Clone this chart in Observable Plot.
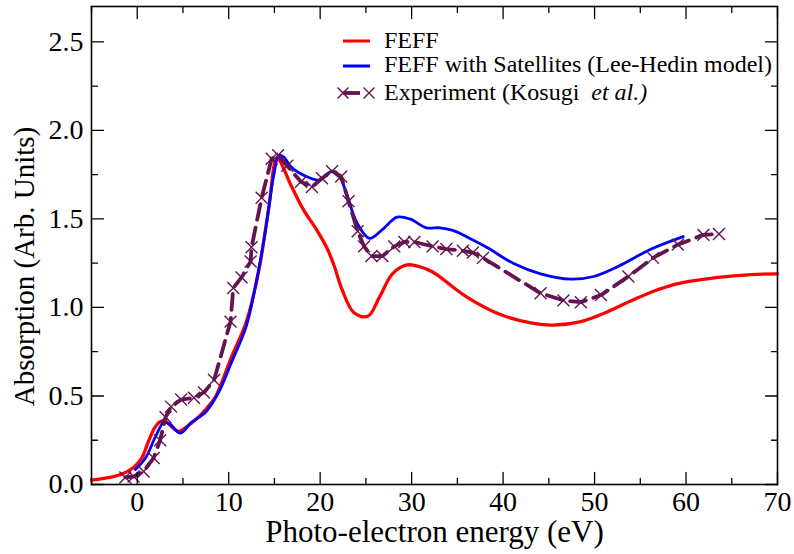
<!DOCTYPE html>
<html>
<head>
<meta charset="utf-8">
<script src="https://cdn.jsdelivr.net/npm/d3@7"></script>
<script src="https://cdn.jsdelivr.net/npm/@observablehq/plot@0.6"></script>
<style>
  html, body { margin: 0; padding: 0; background: white; }
  #chart { position: relative; width: 794px; height: 554px; }
</style>
</head>
<body>
<div id="chart"></div>
<script>
// ---- Data ----
const feffX = [-5, -3, -1.8, -0.4, 0.5, 1.2, 1.9, 2.5, 3.1, 3.7, 4.5, 5.5, 6.4, 7.6, 8.6, 10.3, 11.9, 13.3, 14.4, 15.3, 16.9, 18.2, 19.6, 20.7, 21.5, 22.4, 23.7, 25.2, 26.5, 27.9, 29.5, 30.9, 32.3, 36.0, 39.7, 43.3, 45.5, 48.5, 50.7, 54.3, 56.9, 59.1, 63.5, 67.1, 70];
const feffY = [0.025, 0.04, 0.056, 0.096, 0.15, 0.24, 0.32, 0.355, 0.356, 0.33, 0.30, 0.33, 0.367, 0.43, 0.50, 0.72, 0.915, 1.21, 1.57, 1.84, 1.68, 1.55, 1.44, 1.34, 1.24, 1.10, 0.97, 0.95, 1.06, 1.19, 1.24, 1.23, 1.20, 1.06, 0.96, 0.91, 0.90, 0.92, 0.96, 1.045, 1.10, 1.135, 1.17, 1.186, 1.19];

const satX = [-0.2, 0.9, 2.0, 2.9, 3.6, 4.7, 5.9, 7.5, 8.9, 10.3, 11.9, 13.0, 14.1, 14.9, 15.5, 16.0, 16.9, 18.5, 19.9, 21.3, 22.1, 22.9, 24.0, 25.4, 26.8, 28.4, 29.8, 31.6, 33.1, 34.5, 36.0, 38.2, 41.1, 44.1, 47.4, 49.9, 52.5, 56.2, 59.7];
const satY = [0.085, 0.15, 0.27, 0.35, 0.34, 0.29, 0.35, 0.41, 0.52, 0.69, 0.89, 1.14, 1.46, 1.74, 1.86, 1.85, 1.79, 1.74, 1.72, 1.77, 1.74, 1.64, 1.48, 1.39, 1.44, 1.51, 1.50, 1.45, 1.45, 1.435, 1.40, 1.34, 1.25, 1.19, 1.16, 1.175, 1.23, 1.33, 1.40];

const expX = [-1.3, -0.4, 0.7, 1.8, 2.5, 3.1, 3.7, 4.8, 6.2, 7.3, 8.4, 10.2, 10.5, 11.4, 12.4, 12.5, 13.6, 14.7, 15.4, 16.4, 17.9, 19.1, 20.2, 21.3, 22.3, 23.1, 24.1, 24.8, 25.6, 26.8, 28.1, 29.2, 30.3, 32.3, 33.8, 35.6, 36.7, 37.8, 44.1, 46.6, 48.5, 50.7, 53.7, 56.4, 59.1, 61.9, 63.6];
const expY = [0.04, 0.045, 0.073, 0.15, 0.25, 0.38, 0.44, 0.48, 0.49, 0.52, 0.59, 0.92, 1.11, 1.17, 1.26, 1.34, 1.62, 1.84, 1.86, 1.80, 1.71, 1.68, 1.73, 1.77, 1.74, 1.60, 1.43, 1.345, 1.29, 1.29, 1.345, 1.37, 1.37, 1.345, 1.33, 1.32, 1.31, 1.28, 1.08, 1.04, 1.03, 1.07, 1.175, 1.28, 1.355, 1.41, 1.415];

const xMajor = [0, 10, 20, 30, 40, 50, 60, 70];
const xMinor = [-5, 5, 15, 25, 35, 45, 55, 65];
const yMajor = [0, 0.5, 1.0, 1.5, 2.0, 2.5];
const yMinor = [0.25, 0.75, 1.25, 1.75, 2.25];

const seriesNames = ["FEFF", "FEFF with Satellites (Lee-Hedin model)", "Experiment (Kosugi  "];
const xTitle = "Photo-electron energy (eV)";
const yTitle = "Absorption (Arb. Units)";

// ---- Build tables ----
const feff = feffX.map((x, i) => ({x, y: feffY[i]}));
const sat = satX.map((x, i) => ({x, y: satY[i]}));
const expt = expX.map((x, i) => ({x, y: expY[i]}));

const RED = "#ff0000", BLUE = "#0000ff", PURP = "#641450";
const FONT = "'Liberation Serif', 'Times New Roman', serif";

const tickShape = { draw(context, l) { context.moveTo(0, 0); context.lineTo(0, -l); } };
function ticks(data, channel, frameAnchor, rotate, length) {
  const o = {frameAnchor, rotate, length, anchor: "start", shape: tickShape, stroke: "black", strokeWidth: 1.3};
  o[channel] = d => d;
  return Plot.vector(data, o);
}

const plot = Plot.plot({
  width: 794,
  height: 554,
  marginLeft: 91,
  marginRight: 17,
  marginTop: 6,
  marginBottom: 70,
  style: {fontFamily: FONT, background: "white", color: "black"},
  x: {domain: [-5, 70]},
  y: {domain: [0, 2.7]},
  marks: [
    Plot.line(feff, {x: "x", y: "y", stroke: RED, strokeWidth: 3.3, curve: "catmull-rom"}),
    Plot.line(sat, {x: "x", y: "y", stroke: BLUE, strokeWidth: 2.8, curve: "catmull-rom"}),
    Plot.line(expt, {x: "x", y: "y", stroke: PURP, strokeWidth: 3.8, strokeDasharray: "16,8"}),
    Plot.dot(expt, {x: "x", y: "y", symbol: "times", r: 5.5, stroke: PURP, strokeWidth: 1.4}),
    Plot.frame({stroke: "black", strokeWidth: 1.6}),
    ticks(xMajor, "x", "bottom", 0, 12),
    ticks(xMinor, "x", "bottom", 0, 6),
    ticks(xMajor, "x", "top", 180, 12),
    ticks(xMinor, "x", "top", 180, 6),
    ticks(yMajor, "y", "left", 90, 12),
    ticks(yMinor, "y", "left", 90, 6),
    ticks(yMajor, "y", "right", -90, 12),
    ticks(yMinor, "y", "right", -90, 6),
    Plot.axisX(xMajor, {tickSize: 0, tickPadding: 7, fontSize: 28, label: null}),
    Plot.axisY(yMajor, {tickSize: 0, tickPadding: 8, fontSize: 28, label: null, tickFormat: d3.format(".1f")}),
    Plot.text([xTitle], {frameAnchor: "bottom", dy: 48, lineAnchor: "middle", textAnchor: "middle", fontSize: 31, text: d => d, fill: "black"}),
    Plot.text([yTitle], {frameAnchor: "left", dx: -67, dy: 21, rotate: -90, lineAnchor: "middle", textAnchor: "middle", fontSize: 29, text: d => d, fill: "black"})
  ]
});

document.getElementById("chart").appendChild(plot);

// ---- Legend (inside the plot area, top right) ----
const svg = d3.select(plot);
const lg = svg.append("g").attr("font-family", FONT).attr("font-size", 24).attr("fill", "black").attr("text-anchor", "start");
const rows = [
  {y: 41, base: 48, type: "red"},
  {y: 66, base: 72, type: "blue"},
  {y: 93, base: 100, type: "exp"}
];
rows.forEach((r, i) => {
  if (r.type === "red" || r.type === "blue") {
    lg.append("line").attr("x1", 343).attr("x2", 370).attr("y1", r.y).attr("y2", r.y)
      .attr("stroke", r.type === "red" ? RED : BLUE).attr("stroke-width", 3);
  } else {
    lg.append("line").attr("x1", 343).attr("x2", 360).attr("y1", r.y).attr("y2", r.y)
      .attr("stroke", PURP).attr("stroke-width", 3.8);
    const sym = d3.symbol(d3.symbolTimes, 80)();
    [343, 369].forEach(cx => {
      lg.append("path").attr("d", sym).attr("transform", `translate(${cx},${r.y})`)
        .attr("fill", "none").attr("stroke", PURP).attr("stroke-width", 1.4);
    });
  }
  const t = lg.append("text").attr("x", 384).attr("y", r.base).attr("text-anchor", "start").style("white-space", "pre");
  if (r.type === "exp") {
    t.append("tspan").text(seriesNames[2]);
    t.append("tspan").attr("font-style", "italic").text("et al.)");
  } else {
    t.text(seriesNames[i]);
  }
});
</script>
</body>
</html>
